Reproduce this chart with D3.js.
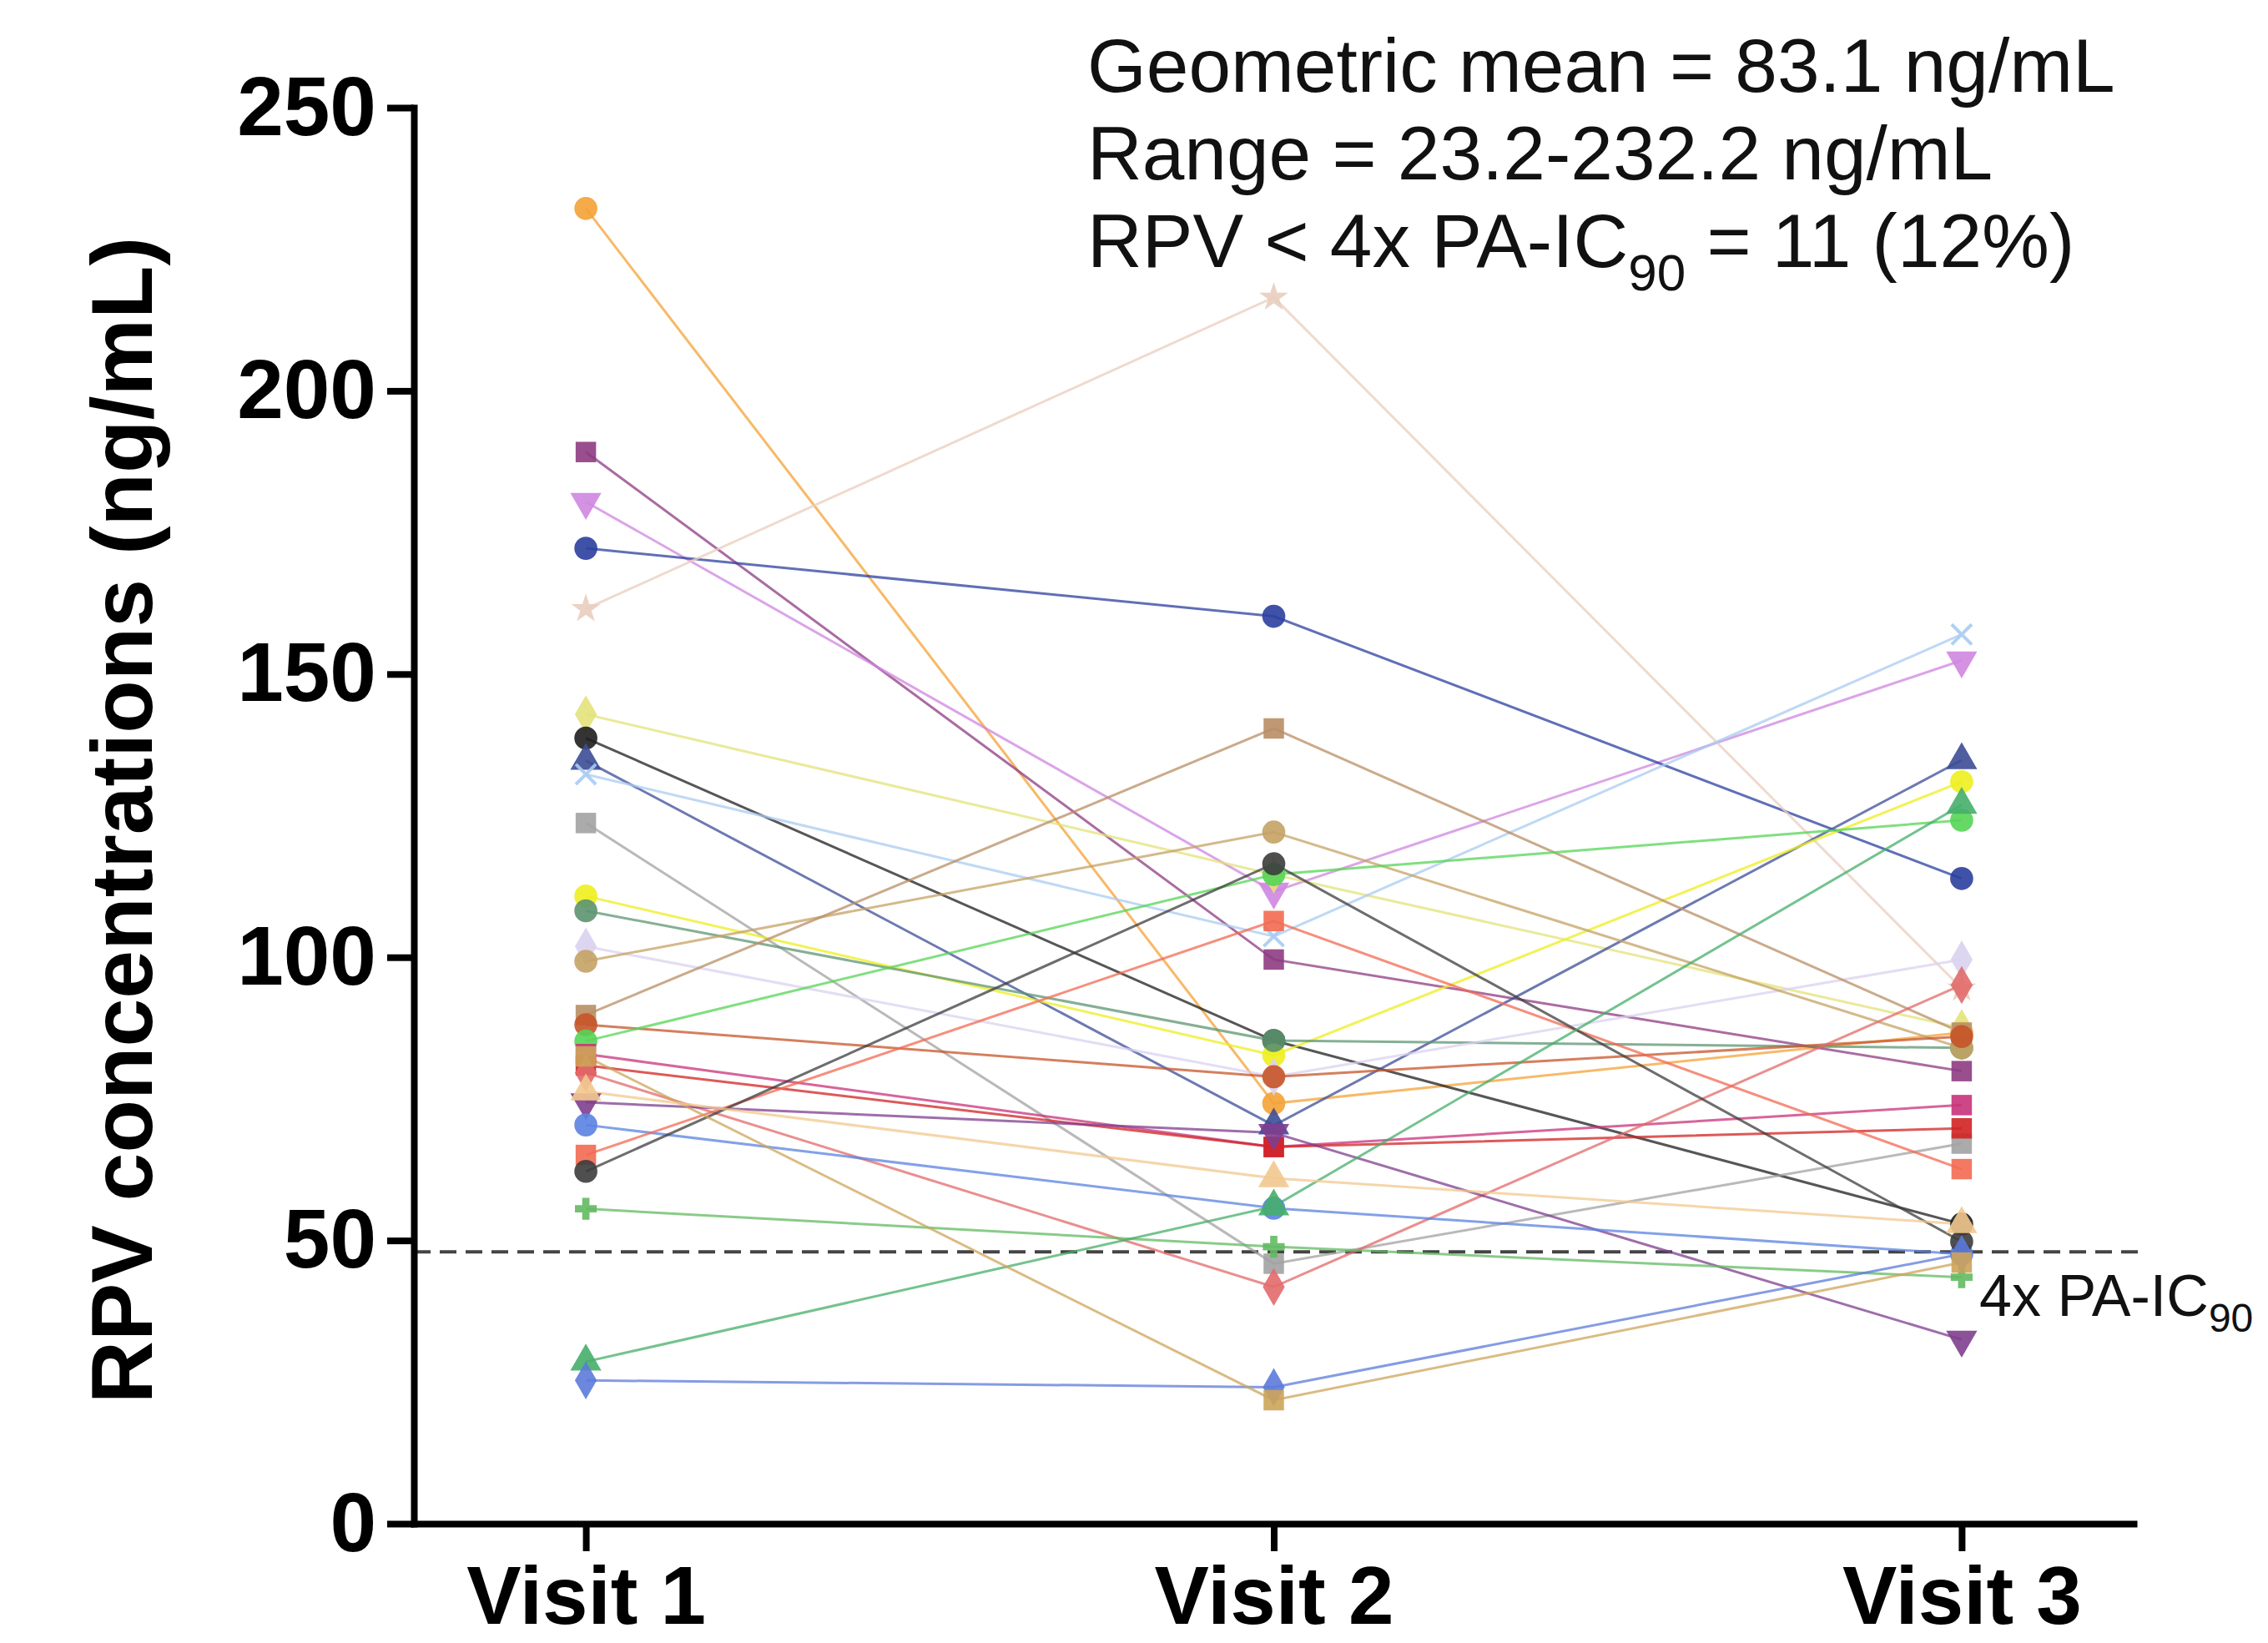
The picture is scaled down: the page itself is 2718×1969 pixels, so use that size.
<!DOCTYPE html>
<html>
<head>
<meta charset="utf-8">
<script src="https://cdn.jsdelivr.net/npm/d3@7"></script>
<style>
  body { margin: 0; background: #fff; }
  svg { display: block; }
</style>
</head>
<body>
<div id="chart"></div>
<script>
// Values (ng/mL), one entry per participant
const visits = ["Visit 1", "Visit 2", "Visit 3"];
const visit1 = [232.2, 189.2, 180.4, 172.2, 161.5, 142.9, 138.7, 134.7, 132.3, 123.7,
                110.8, 108.2, 101.9, 99.3, 89.8, 88.1, 85.2, 82.9, 80.9, 79.6,
                74.4, 70.4, 65.1, 62.2, 55.6, 28.6, 25.3, 82.5, 76.3];
const visit2 = [74.2, 99.6, 111.6, 160.2, 216.5, 114.6, 85.3, 70.3, 103.7, 45.9,
                82.7, 85.3, 78.9, 122.1, 140.4, 78.9, 114.6, 66.5, 66.5, 41.8,
                69.0, 55.7, 106.4, 116.5, 48.9, 56.0, 24.1, 21.8, 61.0];
const visit3 = [86.7, 79.9, 152.4, 113.9, 94.5, 87.5, 52.9, 134.8, 157.0, 67.1,
                131.0, 84.0, 99.6, 84.0, 86.7, 86.0, 124.2, 73.9, 69.8, 95.1,
                32.5, 47.6, 62.6, 49.8, 43.5, 126.9, 47.6, 46.1, 52.9];
const threshold = 48; // 4x PA-IC90
const yTicks = [0, 50, 100, 150, 200, 250];

// marker styling per participant
const colors = ["#f4a236", "#8e3b82", "#cf86e0", "#2b3f9e", "#e9cdbe", "#e3e27a", "#1e1e1e", "#3c4c95", "#a9cbf2", "#a2a2a2",
                "#eeee1e", "#5c9470", "#d9d2f0", "#c4a264", "#b88e64", "#c65428", "#55d455", "#c8327a", "#d22222", "#e26a6a",
                "#7e3e8e", "#5a82e0", "#f26a52", "#3c3c3c", "#62ba62", "#46ae6a", "#5c7ada", "#cda45a", "#f2c88e"];
const shapes = ["circle", "square", "triangleDown", "circle", "star", "diamond", "circle", "triangle", "x", "square",
                "circle", "circle", "diamond", "circle", "square", "circle", "circle", "square", "square", "diamond",
                "triangleDown", "circle", "square", "circle", "plus", "triangle", "diamond", "square", "triangle"];

const W = 2718, H = 1969;
const svg = d3.select("#chart").append("svg")
  .attr("width", W).attr("height", H)
  .style("font-family", "'Liberation Sans', Arial, Helvetica, sans-serif");

const x = d3.scalePoint().domain(visits).range([496, 2557]).padding(0.25);
const y = d3.scaleLinear().domain([0, 250]).range([1826, 129]);

const subjects = visit1.map((v, i) => ({
  values: [visit1[i], visit2[i], visit3[i]],
  color: colors[i],
  shape: shapes[i]
}));

const symbolFor = {
  circle: d3.symbolCircle, square: d3.symbolSquare, triangle: d3.symbolTriangle,
  triangleDown: d3.symbolTriangle, diamond: d3.symbolDiamond, star: d3.symbolStar,
  x: d3.symbolX, plus: d3.symbolCross
};

// dashed threshold line
svg.append("line")
  .attr("x1", 496).attr("x2", 2562)
  .attr("y1", y(threshold)).attr("y2", y(threshold))
  .attr("stroke", "#444").attr("stroke-width", 4)
  .attr("stroke-dasharray", "20 11");

// participant lines
const line = d3.line().x((d, i) => x(visits[i])).y(d => y(d));
svg.append("g").selectAll("path")
  .data(subjects)
  .join("path")
  .attr("d", d => line(d.values))
  .attr("fill", "none")
  .attr("stroke", d => d.color)
  .attr("stroke-width", 3)
  .attr("opacity", 0.75);

// markers
const pts = [];
subjects.forEach(s => s.values.forEach((v, i) => pts.push({ s, v, i })));
svg.append("g").selectAll("path")
  .data(pts)
  .join("path")
  .attr("d", d => d3.symbol().type(symbolFor[d.s.shape])
    .size(d.s.shape === "x" || d.s.shape === "plus" || d.s.shape === "star" ? 380 : 600)())
  .attr("transform", d => `translate(${x(visits[d.i])},${y(d.v)})` + (d.s.shape === "triangleDown" ? " rotate(180)" : ""))
  .attr("fill", d => d.s.shape === "x" ? "none" : d.s.color)
  .attr("stroke", d => d.s.shape === "x" ? d.s.color : "none")
  .attr("stroke-width", 4)
  .attr("opacity", 0.9);

// y axis
const yAxis = svg.append("g")
  .attr("transform", "translate(496,0)")
  .call(d3.axisLeft(y).tickValues(yTicks).tickSize(32).tickSizeOuter(0).tickPadding(13));
yAxis.selectAll("text").attr("font-size", 100).attr("font-weight", "bold")
  .attr("font-family", "'Liberation Sans', Arial, sans-serif").attr("fill", "#000");

// x axis
const xAxis = svg.append("g")
  .attr("transform", "translate(0,1826)")
  .call(d3.axisBottom(x).tickSize(33).tickSizeOuter(0).tickPadding(17));
xAxis.selectAll("text").attr("font-size", 98).attr("font-weight", "bold")
  .attr("font-family", "'Liberation Sans', Arial, sans-serif").attr("fill", "#000");

svg.selectAll(".domain, .tick line").attr("stroke", "#000").attr("stroke-width", 8);
svg.selectAll(".domain").attr("stroke-linecap", "square");

// y axis title
svg.append("text")
  .attr("transform", "translate(182,983) rotate(-90)")
  .attr("text-anchor", "middle")
  .attr("font-size", 104).attr("font-weight", "bold")
  .text("RPV concentrations (ng/mL)");

// summary statistics
const stats = svg.append("g").attr("font-size", 91).attr("fill", "#111");
stats.append("text").attr("x", 1303).attr("y", 110).text("Geometric mean = 83.1 ng/mL");
stats.append("text").attr("x", 1303).attr("y", 215).text("Range = 23.2-232.2 ng/mL");
const t3 = stats.append("text").attr("x", 1303).attr("y", 320);
t3.append("tspan").text("RPV < 4x PA-IC");
t3.append("tspan").attr("font-size", 62).attr("dy", 28).text("90");
t3.append("tspan").attr("dy", -28).text(" = 11 (12%)");

// threshold label, nudged left so the subscript stays inside the frame
const tl = svg.append("text").attr("x", 2372).attr("y", 1577).attr("font-size", 70).attr("fill", "#111");
tl.append("tspan").text("4x PA-IC");
tl.append("tspan").attr("font-size", 48).attr("dy", 19).text("90");
</script>
</body>
</html>
